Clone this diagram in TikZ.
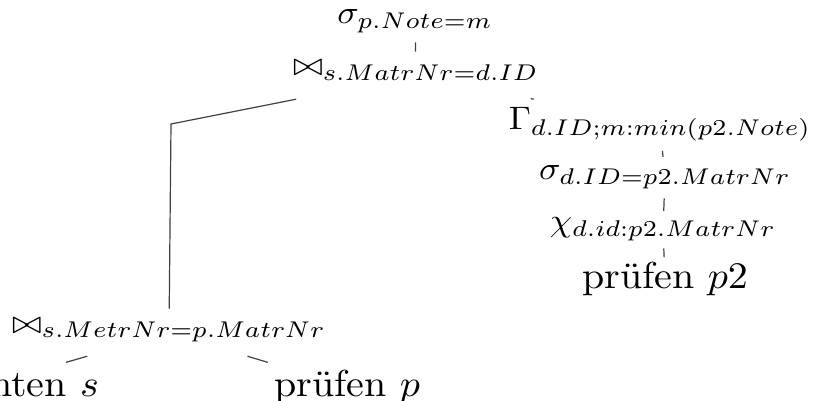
\documentclass[tikz,border=0pt]{standalone}
\usepackage{amsmath}
\newcommand{\opx}[1]{\scalebox{3.55}[3.25]{#1}}
\newcommand{\lfx}[1]{\scalebox{4.0}[3.75]{#1}}
\begin{document}
\begin{tikzpicture}[x=1pt,y=-1pt,
  op/.style={inner sep=9pt, anchor=base},
  deep/.style={text depth=#1},
  leaf/.style={inner sep=7pt},
  edge/.style={draw=black!75, line width=1.2pt}]
\useasboundingbox (0,0) rectangle (820,401);
\node[op] (s1) at (415,24) {\opx{$\sigma_{p.Note=m}$}};
\node[op, deep=14pt] (j1) at (416,76) {\opx{$\bowtie_{s.MatrNr=d.ID}$}};
\node[op] (g) at (660,130) {\opx{$\Gamma_{d.ID;m:min(p2.Note)}$}};
\node[op] (s2) at (665,180) {\opx{$\sigma_{d.ID=p2.MatrNr}$}};
\node[op, inner sep=7pt] (c) at (663,232) {\opx{$\chi_{d.id:p2.MatrNr}$}};
\node[leaf, anchor=base, inner sep=4pt] (p2) at (665,288) {\lfx{prüfen $p2$}};
\node[op, deep=14pt] (j2) at (169,333) {\opx{$\bowtie_{s.MetrNr=p.MatrNr}$}};
\node[leaf, anchor=base east] (st) at (106,396) {\lfx{Studenten $s$}};
\node[leaf, anchor=base west] (pp) at (267,396) {\lfx{prüfen $p$}};
\coordinate (bend) at (171,124);
\draw[edge] (s1) -- (j1);
\draw[edge] (j1) -- (bend) -- (j2);
\draw[edge] (j1) -- (g);
\draw[edge] (g) -- (s2);
\draw[edge] (s2) -- (c);
\draw[edge] (c) -- (p2);
\draw[edge] (j2) -- (st);
\draw[edge] (j2) -- (pp);
\end{tikzpicture}
\end{document}
